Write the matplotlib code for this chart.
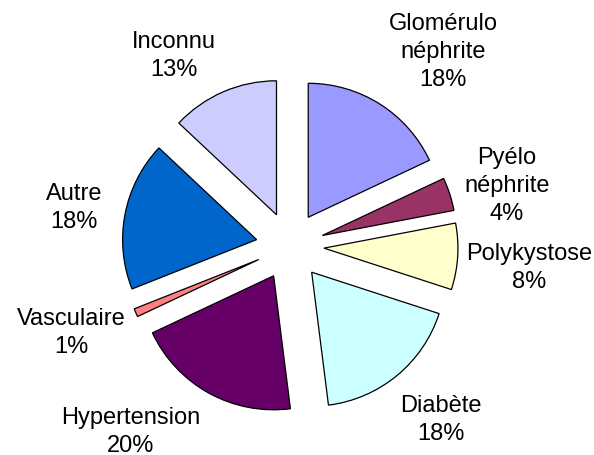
import numpy as np
from matplotlib import pyplot as plt

# Causes d'insuffisance rénale (%)
labels = ['Glomérulo\nnéphrite', 'Pyélo\nnéphrite', 'Polykystose', 'Diabète',
          'Hypertension', 'Vasculaire', 'Autre', 'Inconnu']
values = [18, 4, 8, 18, 20, 1, 18, 13]
colors = ['#9999FF', '#993366', '#FFFFCC', '#CCFFFF',
          '#660066', '#FF8080', '#0066CC', '#CCCCFF']

W, H = 594, 456
# label centres in pixel coordinates (x, y from top)
label_xy = [(443, 52), (507, 186), (529, 268), (441, 420),
            (131, 432), (71, 333), (74, 208), (174, 56)]

fig = plt.figure(figsize=(W / 100, H / 100), dpi=100)
ax = fig.add_axes([0, 0, 1, 1])

radius = 134
# explode is in data units here (pixels)
ax.pie(values, colors=colors, startangle=90, counterclock=False,
       center=(290, H - 247), radius=radius, explode=[34] * len(values),
       wedgeprops=dict(edgecolor='black', linewidth=0.9))

for lab, val, (x, y) in zip(labels, values, label_xy):
    ax.text(x, H - y, '{0}\n{1}%'.format(lab, val), ha='center', va='center',
            fontsize=17, family='Liberation Sans', linespacing=1.38)

ax.set_xlim(0, W)
ax.set_ylim(0, H)
ax.set_aspect('equal')
ax.axis('off')

fig.savefig('out.png', dpi=100)
